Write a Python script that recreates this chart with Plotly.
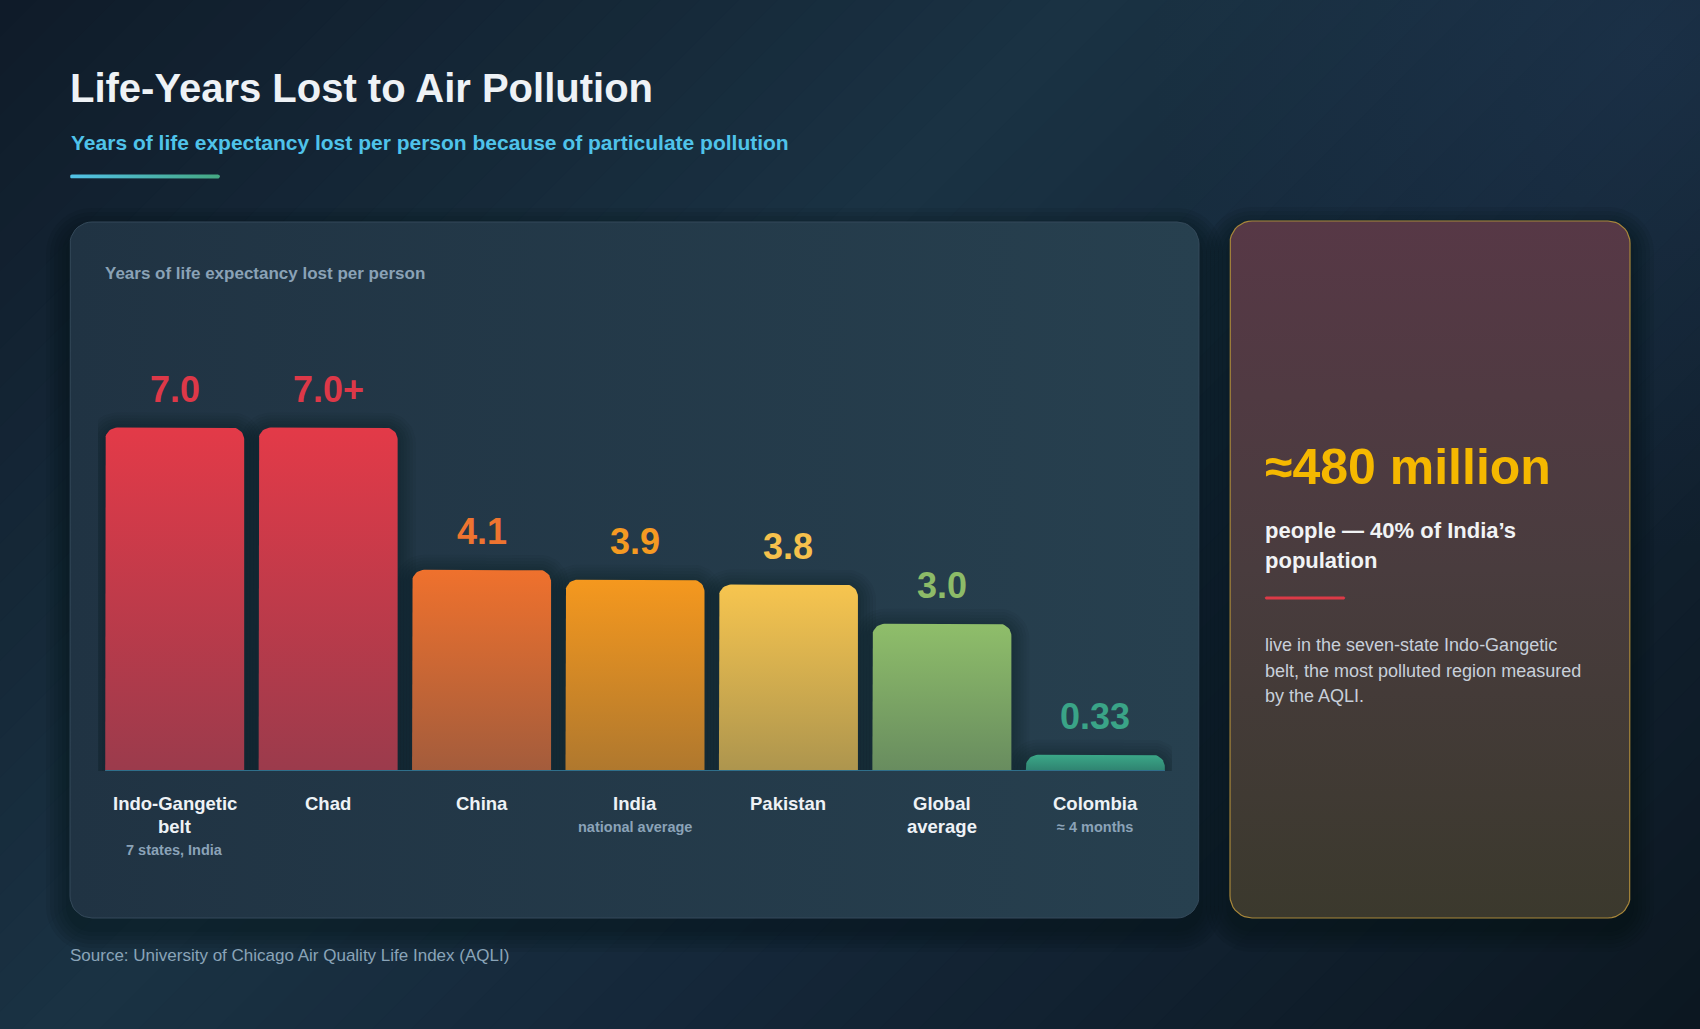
import numpy as np
import plotly.graph_objects as go

W, H = 1700, 1029
FONT = "Liberation Sans, Arial, Helvetica, sans-serif"

# ---------------- data ----------------
categories = ["Indo-Gangetic belt", "Chad", "China", "India", "Pakistan", "Global average", "Colombia"]
name_lines = [["Indo-Gangetic", "belt"], ["Chad"], ["China"], ["India"], ["Pakistan"], ["Global", "average"], ["Colombia"]]
sublabels = ["7 states, India", "", "", "national average", "", "", "≈ 4 months"]
values = [7.0, 7.0, 4.1, 3.9, 3.8, 3.0, 0.33]
value_labels = ["7.0", "7.0+", "4.1", "3.9", "3.8", "3.0", "0.33"]
top_colors = ["#e33a48", "#e33a48", "#ef712d", "#f5981e", "#f7c54f", "#8fbe6a", "#3ba888"]
bottom_colors = ["#9b3b4c", "#9b3b4c", "#a35c3c", "#af782e", "#ad954e", "#688c5f", "#2f8270"]
label_colors = ["#dd3848", "#dd3848", "#ee7430", "#f59a22", "#f6c14c", "#8dbb68", "#3aa487"]

title = "Life-Years Lost to Air Pollution"
subtitle = "Years of life expectancy lost per person because of particulate pollution"
panel_label = "Years of life expectancy lost per person"
source = "Source: University of Chicago Air Quality Life Index (AQLI)"
big_stat = "≈480 million"
stat_lines = ["people — 40% of India’s", "population"]
stat_body = ["live in the seven-state Indo-Gangetic", "belt, the most polluted region measured", "by the AQLI."]

# ---------------- layout geometry (pixels) ----------------
PLOT_L, PLOT_R = 98, 1172
BASE_Y, TOP_Y = 771, 354
Y_MAX = 8.5
PX_PER_UNIT = (BASE_Y - TOP_Y) / Y_MAX
CAT_W = (PLOT_R - PLOT_L) / len(categories)
BAR_W = 139 / CAT_W
RADIUS = 12


def hex2rgb(h):
    h = h.lstrip("#")
    return tuple(int(h[i:i + 2], 16) for i in (0, 2, 4))


def mix(c1, c2, t):
    a, b = hex2rgb(c1), hex2rgb(c2)
    return "rgb(%d,%d,%d)" % tuple(round(a[i] + (b[i] - a[i]) * t) for i in range(3))


def rrect(x0, y0, x1, y1, r, n=10):
    """Rounded rectangle in pixel space (y grows downward)."""
    pts = []
    corners = [(x1 - r, y0 + r, -90, 0), (x1 - r, y1 - r, 0, 90),
               (x0 + r, y1 - r, 90, 180), (x0 + r, y0 + r, 180, 270)]
    for cx, cy, a0, a1 in corners:
        for t in np.linspace(a0, a1, n):
            a = np.radians(t)
            pts.append((cx + r * np.cos(a), cy + r * np.sin(a)))
    pts.append(pts[0])
    xs, ys = zip(*pts)
    return list(xs), list(ys)


def bar_outline(xc, v, half_w, rx, ry, base=0.0, n=12):
    """Bar outline in data units with rounded top corners (y grows upward)."""
    x0, x1 = xc - half_w, xc + half_w
    pts = [(x0, base)]
    for t in np.linspace(180, 90, n):
        a = np.radians(t)
        pts.append((x0 + rx + rx * np.cos(a), v - ry + ry * np.sin(a)))
    for t in np.linspace(90, 0, n):
        a = np.radians(t)
        pts.append((x1 - rx + rx * np.cos(a), v - ry + ry * np.sin(a)))
    pts.append((x1, base))
    pts.append((x0, base))
    xs, ys = zip(*pts)
    return list(xs), list(ys)


fig = go.Figure()


def deco(xs, ys, fillcolor=None, gradient=None, line=None, axes=("x", "y")):
    kw = dict(x=xs, y=ys, mode="lines", fill="toself", hoverinfo="skip",
              showlegend=False, xaxis=axes[0], yaxis=axes[1])
    kw["line"] = line if line else dict(width=0, color="rgba(0,0,0,0)")
    if gradient is not None:
        kw["fillgradient"] = gradient
    else:
        kw["fillcolor"] = fillcolor
    fig.add_trace(go.Scatter(**kw))


# ---------------- background (diagonal gradient) ----------------
bg_stops = [(0.0, "#0f1b29"), (0.4, "#1a3243"), (0.6, "#15283a"), (1.0, "#0c1721")]


def stop_color(t):
    for (t0, c0), (t1, c1) in zip(bg_stops[:-1], bg_stops[1:]):
        if t <= t1:
            return mix(c0, c1, (t - t0) / (t1 - t0))
    return bg_stops[-1][1]


S = W + H
NB = 70
for k in range(NB):
    s0 = S * k / NB - 2
    s1 = S * (k + 1) / NB + 2
    c = stop_color((k + 0.5) / NB)
    deco([s0 + 60, s1 + 60, s1 - (H + 60), s0 - (H + 60), s0 + 60],
         [-60, -60, H + 60, H + 60, -60], fillcolor=c)

# soft glow at top right
gx, gy = rrect(1150, -450, 2150, 550, 499, n=24)
deco(gx, gy, gradient=dict(type="radial",
                           colorscale=[[0, "rgba(40,68,100,0.30)"], [1, "rgba(40,68,100,0)"]]))

# ---------------- panels ----------------
LP = (70, 222, 1199, 918)
RP = (1230, 221, 1630, 918)
for (x0, y0, x1, y1) in (LP, RP):
    for k in range(1, 7):
        e = k * 4
        xs, ys = rrect(x0 - e, y0 - e + 10, x1 + e, y1 + e + 10, 22 + e)
        deco(xs, ys, fillcolor="rgba(4,10,18,0.07)")

xs, ys = rrect(*LP, 22)
deco(xs, ys, gradient=dict(type="horizontal", start=LP[0], stop=LP[2],
                           colorscale=[[0, "#203343"], [1, "#27404f"]]),
     line=dict(color="#34495a", width=1))

xs, ys = rrect(*RP, 22)
deco(xs, ys, gradient=dict(type="vertical", start=RP[1], stop=RP[3],
                           colorscale=[[0, "#573846"], [0.5, "#493c3e"], [1, "#3b392d"]]),
     line=dict(color="#a8873a", width=1.2))

# accent line under subtitle
xs, ys = rrect(70, 174.5, 220, 178.5, 2, n=4)
deco(xs, ys, gradient=dict(type="horizontal", start=70, stop=220,
                           colorscale=[[0, "#52c2e8"], [1, "#45a882"]]))
# red rule in stat card
xs, ys = rrect(1265, 596.5, 1345, 599.5, 1, n=3)
deco(xs, ys, fillcolor="#dc3a47")

# ---------------- bars (drawn on the x2/y2 data axes) ----------------
rx = RADIUS / CAT_W
ry = RADIUS / PX_PER_UNIT
half = BAR_W / 2

# soft shadow halo around each bar
for i, v in enumerate(values):
    for k in range(6, 0, -1):
        e = 3 * k
        xs, ys = bar_outline(i, v + (e - 3) / PX_PER_UNIT, half + e / CAT_W,
                             (RADIUS + e) / CAT_W, (RADIUS + e) / PX_PER_UNIT)
        deco(xs, ys, fillcolor="rgba(6,12,20,0.05)", axes=("x2", "y2"))

# gradient bars
for i, (cat, v, ct, cb) in enumerate(zip(categories, values, top_colors, bottom_colors)):
    xs, ys = bar_outline(i, v, half, rx, min(ry, v * 0.8))
    fig.add_trace(go.Scatter(
        x=xs, y=ys, mode="lines", fill="toself", name=cat,
        line=dict(width=0, color="rgba(0,0,0,0)"),
        fillgradient=dict(type="vertical", start=0, stop=v,
                          colorscale=[[0, cb], [1, ct]]),
        xaxis="x2", yaxis="y2", hoverinfo="skip", showlegend=False))

# baseline
fig.add_shape(type="rect", xref="x2", yref="y2", x0=-half, x1=len(categories) - 1 + half,
              ysizemode="pixel", yanchor=0, y0=-2.5, y1=1,
              fillcolor="#2f6f8b", line=dict(width=0), layer="above")

# ---------------- text ----------------
ann = []


def txt(text, x, y, size, color, bold=False, xanchor="left", xref="x", yref="y", yshift=0):
    ann.append(dict(text=("<b>%s</b>" % text) if bold else text, x=x, y=y, xref=xref, yref=yref,
                    xanchor=xanchor, yanchor="middle", showarrow=False, yshift=yshift,
                    font=dict(family=FONT, size=size, color=color)))


txt(title, 68, 87.5, 40, "#eef2f6", bold=True)
txt(subtitle, 69, 142.5, 21, "#4fc3ea", bold=True)
txt(panel_label, 103, 273.5, 17, "#8aa2b6", bold=True)
txt(source, 68, 955.7, 17, "#8aa4b8")

for i, (lab, v, c) in enumerate(zip(value_labels, values, label_colors)):
    txt(lab, i, v, 36, c, bold=True, xanchor="center", xref="x2", yref="y2", yshift=38)

for i, lines in enumerate(name_lines):
    for j, ln in enumerate(lines):
        txt(ln, i, 803 + j * 23.5, 18.5, "#eef2f6", bold=True, xanchor="center", xref="x2")
    if sublabels[i]:
        txt(sublabels[i], i, 803 + len(lines) * 23.5, 14.5, "#8ba3b8", bold=True,
            xanchor="center", xref="x2")

txt(big_stat, 1263, 467, 50, "#f5b800", bold=True)
for j, ln in enumerate(stat_lines):
    txt(ln, 1263, 530.4 + j * 30, 22, "#f1f3f5", bold=True)
for j, ln in enumerate(stat_body):
    txt(ln, 1263, 645.3 + j * 25.2, 18, "#c8d0da")

fig.update_layout(
    width=W, height=H, margin=dict(l=0, r=0, t=0, b=0, pad=0),
    paper_bgcolor="#122233", plot_bgcolor="rgba(0,0,0,0)",
    xaxis=dict(domain=[0, 1], range=[0, W], visible=False, fixedrange=True),
    yaxis=dict(domain=[0, 1], range=[H, 0], visible=False, fixedrange=True),
    xaxis2=dict(domain=[PLOT_L / W, PLOT_R / W], range=[-0.5, len(categories) - 0.5],
                type="linear", visible=False, anchor="y2", fixedrange=True),
    yaxis2=dict(domain=[1 - BASE_Y / H, 1 - TOP_Y / H], range=[0, Y_MAX],
                visible=False, anchor="x2", fixedrange=True),
    showlegend=False, hovermode=False,
    annotations=ann,
)

fig.write_html("out.html", config={"displayModeBar": False},
               post_script="document.body.style.margin='0';document.body.style.overflow='hidden';")
